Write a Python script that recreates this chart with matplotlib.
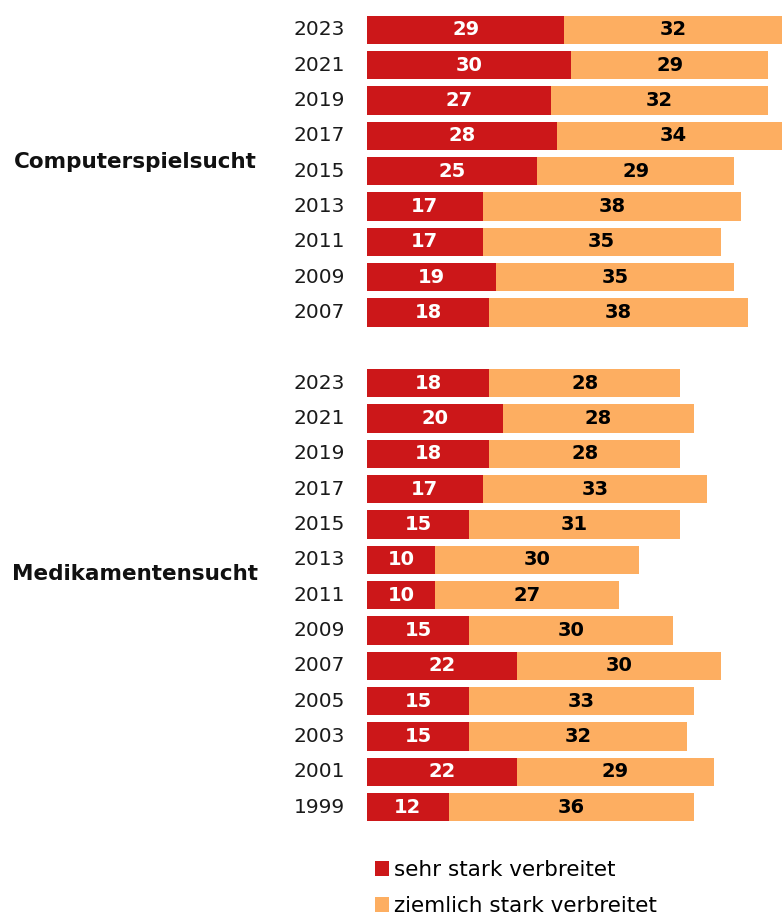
import matplotlib.pyplot as plt
from matplotlib.patches import Patch

plt.rcParams['font.family'] = ['DejaVu Sans']

# survey years per topic (newest first)
games_years = ['2023', '2021', '2019', '2017', '2015', '2013', '2011', '2009', '2007']
games_strong = [29, 30, 27, 28, 25, 17, 17, 19, 18]
games_fair = [32, 29, 32, 34, 29, 38, 35, 35, 38]

meds_years = ['2023', '2021', '2019', '2017', '2015', '2013', '2011', '2009', '2007',
              '2005', '2003', '2001', '1999']
meds_strong = [18, 20, 18, 17, 15, 10, 10, 15, 22, 15, 15, 22, 12]
meds_fair = [28, 28, 28, 33, 31, 30, 27, 30, 30, 33, 32, 29, 36]

topics = ['Computerspielsucht', 'Medikamentensucht']
legend_labels = ['sehr stark verbreitet', 'ziemlich stark verbreitet']

red = '#cc1719'
orange = '#fdae61'

W, H = 783, 916
fig = plt.figure(figsize=(W / 100, H / 100), dpi=100)
ax = fig.add_axes([367 / W, 1 - 825 / H, 415 / W, (825 - 12) / H])

# one empty slot between the two blocks
pos_games = list(range(len(games_years)))
pos_meds = [len(games_years) + 1 + i for i in range(len(meds_years))]

positions = pos_games + pos_meds
years = games_years + meds_years
strong = games_strong + meds_strong
fair = games_fair + meds_fair

ax.barh(positions, strong, height=0.8, color=red, linewidth=0)
ax.barh(positions, fair, left=strong, height=0.8, color=orange, linewidth=0)

for p, s, f, y in zip(positions, strong, fair, years):
    ax.text(s / 2, p, str(s), ha='center', va='center', color='white',
            fontsize=14, fontweight='bold')
    ax.text(s + f / 2, p, str(f), ha='center', va='center', color='black',
            fontsize=14, fontweight='bold')
    ax.text(-3.2, p, y, ha='right', va='center', color='#1a1a1a', fontsize=14.5)

ax.text(-34.1, 3.75, topics[0], ha='center', va='center', fontsize=15.5,
        fontweight='bold', color='#111111')
ax.text(-34.1, 15.4, topics[1], ha='center', va='center', fontsize=15.5,
        fontweight='bold', color='#111111')

ax.set_xlim(0, 61)
ax.set_ylim(positions[-1] + 0.5, -0.5)
ax.axis('off')

handles = [Patch(facecolor=red), Patch(facecolor=orange)]
fig.legend(handles, legend_labels, loc='upper left',
           bbox_to_anchor=(375 / W, 1 - 860 / H), frameon=False,
           fontsize=15.5, handlelength=0.65, handleheight=0.65, handletextpad=0.25,
           labelspacing=0.75, borderaxespad=0, borderpad=0)

fig.savefig('out.png', dpi=100)
